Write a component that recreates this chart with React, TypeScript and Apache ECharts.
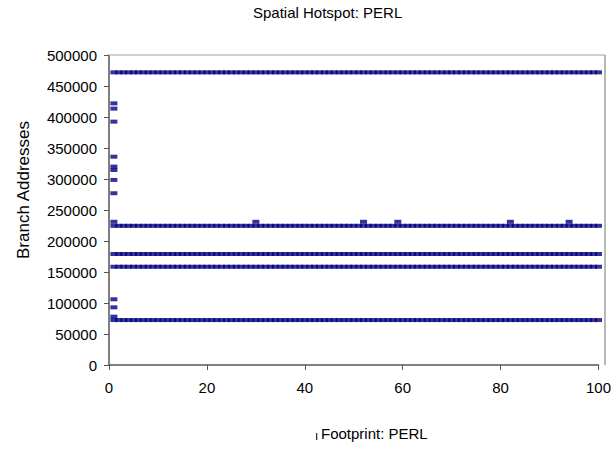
import React, { useEffect, useRef } from "react";
import * as echarts from "echarts";

// Footprint indexes (x) covered by the hot rows
const footprints: number[] = Array.from({ length: 100 }, (_, i) => i + 1);
// Branch addresses that are hit at every footprint
const hotRows: number[] = [472000, 224500, 179000, 158500, 72500];
// Branch addresses hit only at footprint 1
const firstColumn: number[] = [422000, 413500, 392500, 336000, 320000, 314500, 298500, 277000, 231000, 106000, 93000, 78000];
// Sparse hits at address ~231000
const sparseX: number[] = [30, 52, 59, 82, 94];
const sparseY: number[] = [231000, 231000, 231000, 231000, 231000];

const xTicks: number[] = [0, 20, 40, 60, 80, 100];
const yTicks: number[] = [0, 50000, 100000, 150000, 200000, 250000, 300000, 350000, 400000, 450000, 500000];

const FONT = "'Liberation Sans', Arial, sans-serif";

export default function App() {
  const ref = useRef<HTMLDivElement>(null);
  useEffect(() => {
    if (!ref.current) return;
    const chart = echarts.init(ref.current, undefined, { renderer: "svg" });
    const data: number[][] = [];
    hotRows.forEach((y) => footprints.forEach((x) => data.push([x, y])));
    firstColumn.forEach((y) => data.push([1, y]));
    sparseX.forEach((x, i) => data.push([x, sparseY[i]]));

    chart.setOption({
      animation: false,
      backgroundColor: "#ffffff",
      grid: { left: 109, right: 13.3, top: 55, bottom: 85, containLabel: false },
      xAxis: {
        type: "value",
        min: xTicks[0],
        max: xTicks[xTicks.length - 1],
        interval: 20,
        splitLine: { show: false },
        axisLine: { lineStyle: { color: "#555555", width: 1.5 } },
        axisTick: { show: true, inside: false, length: 5, lineStyle: { color: "#555555" } },
        axisLabel: { color: "#000", fontFamily: FONT, fontSize: 15, margin: 15, formatter: (v: number) => String(v) },
      },
      yAxis: {
        type: "value",
        min: yTicks[0],
        max: yTicks[yTicks.length - 1],
        interval: 50000,
        splitLine: { show: false },
        axisLine: { show: true, lineStyle: { color: "#555555", width: 1.5 } },
        axisTick: { show: true, inside: false, length: 5, lineStyle: { color: "#555555" } },
        axisLabel: { color: "#000", fontFamily: FONT, fontSize: 15, margin: 12, formatter: (v: number) => String(v) },
      },
      graphic: [
        { type: "line", shape: { x1: 109, y1: 55, x2: 605, y2: 55 }, style: { stroke: "#c0c0c0", lineWidth: 1.5 }, z: 1 },
        { type: "line", shape: { x1: 605, y1: 55, x2: 605, y2: 365 }, style: { stroke: "#a0a0a0", lineWidth: 1.5 }, z: 1 },
        {
          type: "text", left: 253, top: 5,
          style: { text: "Spatial Hotspot: PERL", fill: "#000", font: `15px ${FONT}` },
        },
        {
          type: "text", x: 23, y: 190, rotation: Math.PI / 2,
          style: { text: "Branch Addresses", fill: "#000", font: `17px ${FONT}`, textAlign: "center", textVerticalAlign: "middle" },
        },
        { type: "rect", shape: { x: 316, y: 433, width: 1.3, height: 7 }, style: { fill: "#333" } },
        {
          type: "text", left: 321, top: 426,
          style: { text: "Footprint: PERL", fill: "#000", font: `15px ${FONT}` },
        },
      ],
      series: [
        {
          type: "scatter",
          data,
          symbol: "rect",
          symbolSize: [7, 4],
          itemStyle: { color: "#000080" },
          silent: true,
        },
      ],
    });
    return () => chart.dispose();
  }, []);
  return <div ref={ref} style={{ position: "absolute", left: 0, top: 0, width: 614, height: 450 }} />;
}
